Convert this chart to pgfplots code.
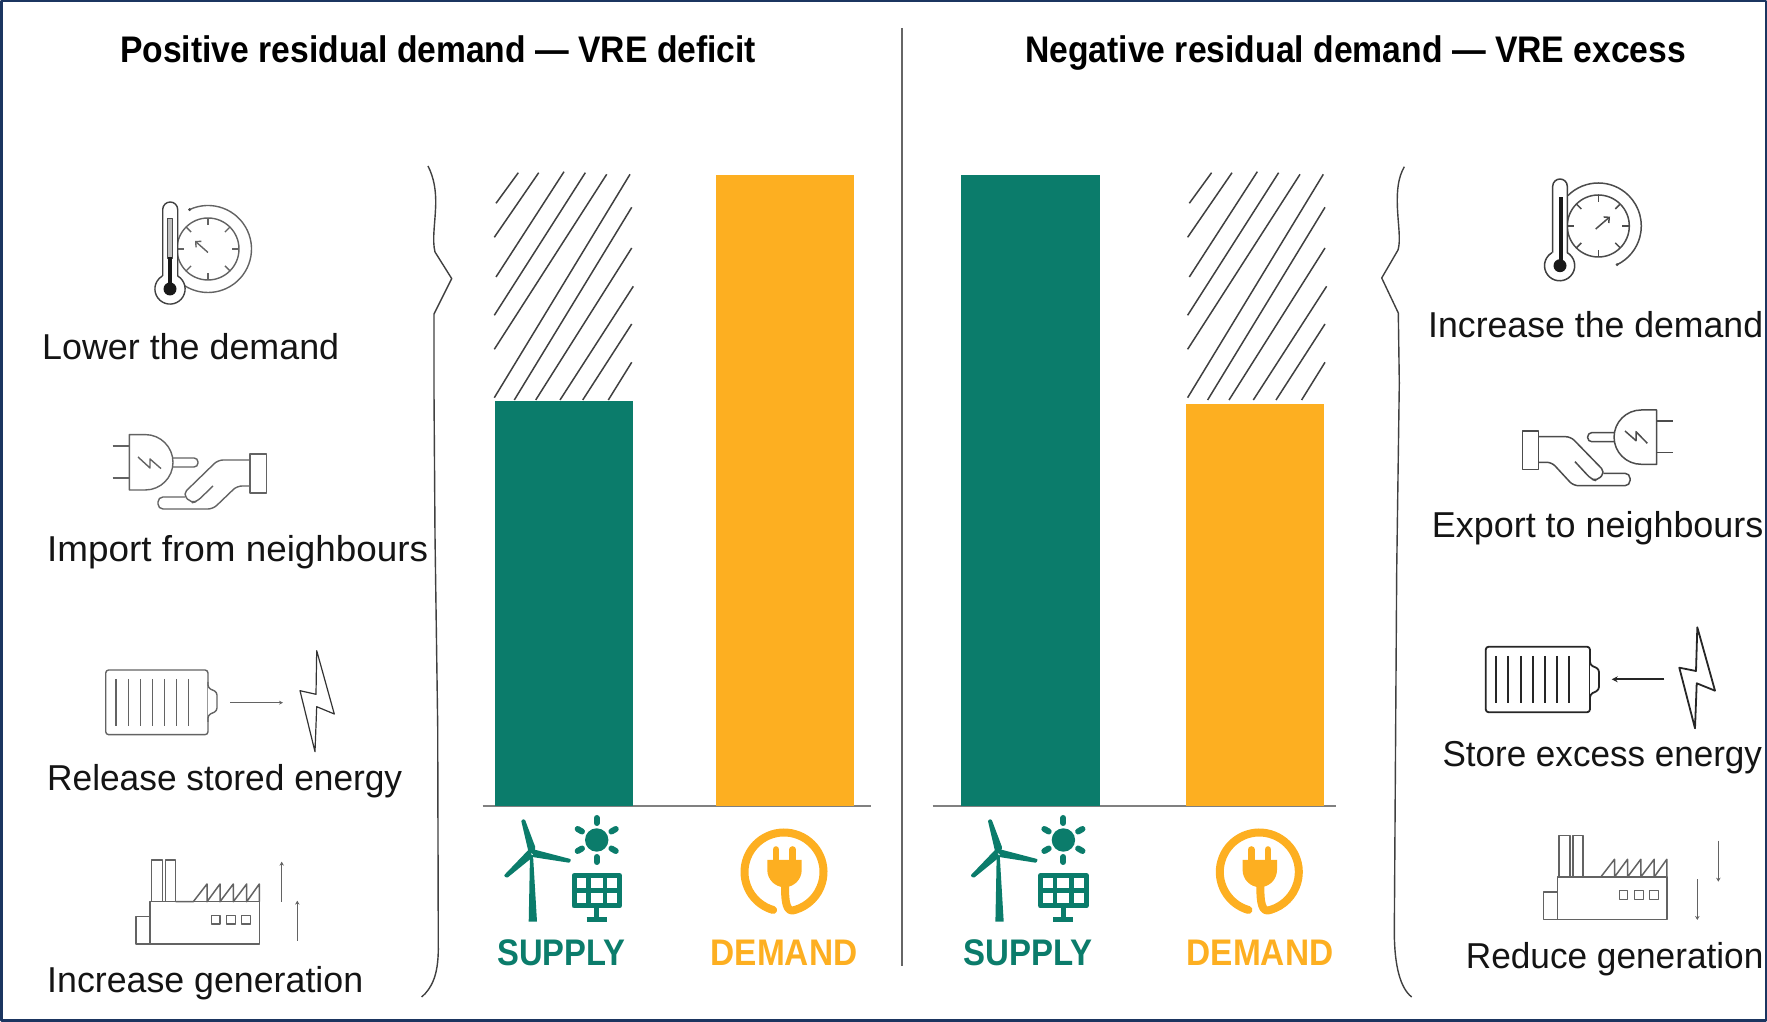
\documentclass[border=0pt]{standalone}
\usepackage{graphicx}
\usepackage{fontspec}
\setmainfont{Liberation Sans}
\usepackage{pgfplots}
\pgfplotsset{compat=1.18}
\usetikzlibrary{arrows.meta}

\definecolor{teal}{HTML}{0B7C6B}
\definecolor{orng}{HTML}{FDAF21}
\definecolor{frame}{HTML}{1B3560}
\definecolor{ink}{HTML}{484848}

% text placed by left end, baseline and width in reference pixels
\newcommand{\lab}[4]{\node[anchor=base west,inner sep=0pt,text=black!92] at (#1,#2+1)
  {\resizebox{#3pt}{\height}{\fontsize{36}{40}\selectfont #4}};}
\newcommand{\ttl}[4]{\node[anchor=base west,inner sep=0pt,text=black] at (#1,#2+1)
  {\resizebox{#3pt}{\height}{\fontsize{37}{40}\selectfont\bfseries #4}};}
\newcommand{\cat}[3]{\resizebox{#1pt}{\height}{\fontsize{37}{40}\selectfont\bfseries\textcolor{#2}{#3}}}

\pgfplotstableread{
x y
496 203.3
518.3 172.7
nan nan
494.3 237.3
538.7 172.7
nan nan
496 277
564 171.7
nan nan
494.3 315.3
585.3 172.7
nan nan
494.3 349.3
606.7 174.3
nan nan
494.3 397.7
630 174.3
nan nan
514.3 400
631.7 207.3
nan nan
535.7 400
631.7 248
nan nan
560 400
633.3 286.3
nan nan
582.7 400
631.7 324
nan nan
608.3 400
631.7 362.3
}\hatchlines

\newcommand{\supplyicon}[1]{%
\begin{scope}[shift={(#1,0)},fill=teal,draw=teal]
  \fill (530,855)--(533,855)--(537,921.7)--(528.7,921.7)--cycle;
  \filldraw[line width=2.4pt,line join=round] (522.5,821)--(524,820.5)--(534,847)--(533.5,853)--(529.5,851)--cycle;
  \filldraw[line width=2.4pt,line join=round] (535,851)--(569.5,860)--(569,861.5)--(540,857)--(534,856)--cycle;
  \filldraw[line width=2.4pt,line join=round] (529,851)--(505.5,875.5)--(507,876.5)--(531,857)--cycle;
  \fill (596.7,840) circle[radius=11.7];
  \foreach \a in {30,90,...,330}
    \draw[line width=6pt,line cap=round] (596.7,840)++(\a:17)--++(\a:5);
  \draw[line width=5pt] (574,875.5) rectangle (619.5,906);
  \draw[line width=4.5pt] (588.3,875.5)--(588.3,906) (605,875.5)--(605,906) (574,890.7)--(619.5,890.7);
  \draw[line width=5pt] (596.7,906)--(596.7,920) (586.7,919.7)--(606.7,919.7);
\end{scope}}

\newcommand{\plugicon}[1]{%
\begin{scope}[shift={(#1,0)},fill=orng,draw=orng]
  \draw[line width=8pt,line cap=round] (784,872)++(106:39.5) arc[start angle=106,end angle=433,radius=39.5]
     .. controls (786,914) and (785,901) .. (785,886);
  \fill (767.3,860)--(801.7,860)--(801.7,870) arc[start angle=0,end angle=180,radius=17.2]--cycle;
  \draw[line width=6.6pt,line cap=round] (776,849.5)--(776,861) (792.6,849.5)--(792.6,861);
\end{scope}}

\newcommand{\factory}[2]{%
\begin{scope}[shift={(#1,#2)},draw=ink!85,line width=1.5pt]
  \draw (150,901.7) rectangle (259.3,944);
  \draw (136,916.7) rectangle (150,944);
  \draw (151.7,860) rectangle (162.3,901.7) (165.7,860) rectangle (175.7,901.7);
  \draw (175.7,901.7)--(193.3,901.7)--(207,884)--(207,901.7)--(220,884)--(220,901.7)--(233.3,884)--(233.3,901.7)--(246.7,884)--(246.7,901.7)--(259.3,884)--(259.3,901.7);
  \draw[line width=1.3pt] (211.7,915.3) rectangle (220,924) (226.7,915.3) rectangle (235.7,924) (241.7,915.3) rectangle (250.7,924);
\end{scope}}

\begin{document}
\begin{tikzpicture}
\path[use as bounding box] (0,0) rectangle (1767pt,1022pt);

% full-size layer in reference pixels: hatching, divider
\begin{axis}[
  at={(0pt,0pt)}, anchor=south west,
  scale only axis, width=1767pt, height=1022pt,
  xmin=0, xmax=1767, ymin=0, ymax=1022, y dir=reverse,
  hide axis, clip=false, unbounded coords=jump]
\addplot[black!75,line width=1.5pt] table[x=x,y=y] {\hatchlines};
\addplot[black!75,line width=1.5pt,xshift=693.3pt] table[x=x,y=y] {\hatchlines};
\addplot[black!60,line width=2pt] coordinates {(902,28) (902,965.6)};
\end{axis}

% left panel
\begin{axis}[
  at={(482.7pt,216pt)}, anchor=south west,
  scale only axis, width=388.3pt, height=630.5pt,
  xmin=-0.3666, xmax=1.3896, ymin=0, ymax=100,
  axis x line*=bottom, axis y line=none,
  x axis line style={-,black!50,line width=1.8pt},
  ybar, bar width=138.5pt, bar shift=0pt,
  xtick={-0.011,0.996}, xticklabels={\cat{128}{teal}{SUPPLY},\cat{146.7}{orng}{DEMAND}},
  major tick length=0pt, ytick=\empty,
  xticklabel style={anchor=base,yshift=-159.7pt,inner sep=0pt}]
\addplot[fill=teal,draw=none] coordinates {(0,64.3)};
\addplot[fill=orng,draw=none] coordinates {(1,100)};
\end{axis}

% right panel
\begin{axis}[
  at={(932.7pt,216pt)}, anchor=south west,
  scale only axis, width=403pt, height=630.5pt,
  xmin=-0.4359, xmax=1.3604, ymin=0, ymax=100,
  axis x line*=bottom, axis y line=none,
  x axis line style={-,black!50,line width=1.8pt},
  ybar, bar width=138.5pt, bar shift=0pt,
  xtick={-0.0125,1.023}, xticklabels={\cat{129}{teal}{SUPPLY},\cat{146.7}{orng}{DEMAND}},
  major tick length=0pt, ytick=\empty,
  xticklabel style={anchor=base,yshift=-159.7pt,inner sep=0pt}]
\addplot[fill=teal,draw=none] coordinates {(0,100)};
\addplot[fill=orng,draw=none] coordinates {(1,63.77)};
\end{axis}

% frame, texts and pictograms, y counted downwards as in the reference
\begin{scope}[x=1pt,y=-1pt,yshift=1022pt,line join=round]
\draw[frame,line width=2.5pt] (1.25,1.25) rectangle (1765.75,1020.75);

\ttl{120}{62}{636}{Positive residual demand — VRE deficit}
\ttl{1025}{62}{661}{Negative residual demand — VRE excess}

\lab{42}{359}{297}{Lower the demand}
\lab{47}{560.5}{381}{Import from neighbours}
\lab{47}{790}{355}{Release stored energy}
\lab{47}{991.7}{316}{Increase generation}
\lab{1428}{336.7}{335}{Increase the demand}
\lab{1431.7}{536.7}{331.5}{Export to neighbours}
\lab{1442.3}{766}{319.5}{Store excess energy}
\lab{1465.7}{967.3}{297.5}{Reduce generation}

% braces
\draw[black!75,line width=1.4pt] (428,166) .. controls (434,178) and (436,190) .. (435.7,205)
  .. controls (435,225) and (432,240) .. (435,252) -- (451.7,278.6) -- (434,314)
  -- (434,393) -- (435,535.7) -- (437.7,726.7) -- (438.3,950)
  .. controls (438,975) and (432,988) .. (421.7,997);
\draw[black!75,line width=1.4pt] (1404.3,166.7) .. controls (1398,178) and (1397,190) .. (1397.3,205)
  .. controls (1398,225) and (1401,240) .. (1398,250) -- (1381.7,278) -- (1398.3,313)
  -- (1399.3,383) -- (1396.7,570) -- (1394.3,933)
  .. controls (1394.5,965) and (1400,988) .. (1411.7,997);

% thermometer and dial, left
\begin{scope}[draw=ink!85,line width=1.4pt]
  \draw (208,249) circle[radius=31];
  \foreach \a in {0,45,...,315}
    \draw (208,249)++(\a:31)--++(\a:-7);
  \draw (208,249)++(-115:43.5) arc[start angle=-115,end angle=130,radius=43.5];
  \fill[ink] (208,249)++(-115:43.5) circle[radius=1.6];
  \draw[-{Straight Barb[length=4pt,width=8pt]}] (208,252.5)--(195,241);
  \draw[fill=white,draw=black!75] (162.7,276)--(162.7,209.5) arc[start angle=180,end angle=360,radius=7.5]
    --(177.7,276) arc[start angle=-59.4,end angle=239.4,radius=15.1];
  \fill[black!25] (167.7,218.6) rectangle (172,258);
  \draw[line width=0.8pt,draw=black!70] (167.7,218.6) rectangle (172,258);
  \fill[black!90] (167.7,257) rectangle (172,285);
  \fill[black!90] (170,289) circle[radius=6.5];
\end{scope}

% thermometer and dial, right
\begin{scope}[draw=black!70,line width=1.5pt]
  \draw (1598.3,226) circle[radius=31];
  \foreach \a in {0,45,...,315}
    \draw (1598.3,226)++(\a:31)--++(\a:-7);
  \draw (1598.3,226)++(-135:43) arc[start angle=-135,end angle=64,radius=43];
  \fill[black!70] (1598.3,226)++(64:43) circle[radius=1.6];
  \draw[-{Straight Barb[length=4pt,width=8pt]}] (1595.7,229)--(1610,216.7);
  \draw[fill=white,draw=black!75] (1552.7,252.7)--(1552.7,186.3) arc[start angle=180,end angle=360,radius=7.3]
    --(1567.3,252.7) arc[start angle=-59.4,end angle=239.4,radius=15.1];
  \fill[black!90] (1558.5,196.7) rectangle (1562.5,262);
  \fill[black!90] (1560,265.7) circle[radius=6.5];
\end{scope}

% plug in hand, left
\begin{scope}[draw=ink!85,line width=1.4pt]
  \draw (129.3,434.6)--(145.3,434.6) arc[start angle=-90,end angle=90,radius=27.7]--(129.3,490)--cycle;
  \draw (112.7,446)--(129.3,446) (112.7,478)--(129.3,478);
  \draw[rounded corners=4] (172,458)--(198,458)--(198,467)--(172,467);
  \draw (138,457)--(150,468)--(150,459)--(161,468.6);
  \draw (250,454) rectangle (266.7,493);
  \draw[rounded corners=5] (250,460)--(218,460)--(183,494)--(191,503)--(197,501.5)--(213,486);
  \draw[rounded corners=5] (250,486)--(237,486)--(213,509)--(158,509)--(158,497)--(185,497);
\end{scope}

% plug in hand, right
\begin{scope}[draw=black!70,line width=1.5pt]
  \draw (1656.7,410)--(1641.2,410) arc[start angle=-90,end angle=-270,radius=27.15]--(1656.7,464.3)--cycle;
  \draw (1656.7,421)--(1672.7,421) (1656.7,452.7)--(1672.7,452.7);
  \draw[rounded corners=4] (1614,432.7)--(1587.7,432.7)--(1587.7,441.7)--(1614,441.7);
  \draw (1625,431)--(1636,440.7)--(1636,431.7)--(1647.3,443.3);
  \draw (1522.3,431) rectangle (1538.3,469.3);
  \draw[rounded corners=5] (1538.3,436.7)--(1570.7,436.7)--(1605,472)--(1597,481)--(1591,479)--(1575,461.7);
  \draw[rounded corners=5] (1538.3,462.3)--(1551.7,462.3)--(1573.3,485.7)--(1630,485.7)--(1630,473.3)--(1603.3,473.3);
\end{scope}

% battery, left
\begin{scope}[draw=ink!85,line width=1.4pt]
  \draw[rounded corners=3] (105.7,670) rectangle (208,734.7);
  \draw[rounded corners=3,fill=white,draw=ink!85] (208,682)--(208,688)--(217,692)--(217,711)--(208,715)--(208,722);
  \foreach \x in {116,128.3,140.3,152.7,164.3,176.7,188.7}
    \draw (\x,679)--(\x,726);
  \draw[-{Stealth[length=4pt,width=4pt]}] (230,702.7)--(283,702.7);
  \draw[black!80,line width=1.2pt] (316.7,650.7)--(334.3,714)--(316.7,706.7)--(315,751.7)--(300,690.7)--(316,694.3)--cycle;
\end{scope}

% battery, right
\begin{scope}[draw=black!85,line width=1.8pt]
  \draw[rounded corners=3] (1485.7,646.7) rectangle (1590,712.3);
  \draw[rounded corners=3,fill=white] (1590,657)--(1590,665)--(1599,669)--(1599,690)--(1590,694.3)--(1590,702);
  \foreach \x in {1496,1508.3,1520.7,1532.7,1545,1557,1569}
    \draw (\x,656)--(\x,703.3);
  \draw[-{Stealth[length=6pt,width=6pt]}] (1664.3,679.3)--(1611.7,679.3);
  \draw (1697.3,627.3)--(1715,690.7)--(1696.7,683.3)--(1695,728.3)--(1679.3,667.7)--(1696,671)--cycle;
\end{scope}

% factories and their arrows
\factory{0}{0}
\factory{1407.5}{-24.7}
\draw[ink!85,line width=1.4pt,-{Stealth[length=4pt,width=4.5pt]}] (281.7,901.7)--(281.7,861.7);
\draw[ink!85,line width=1.4pt,-{Stealth[length=4pt,width=4.5pt]}] (297.3,941)--(297.3,900.7);
\draw[ink!85,line width=1.4pt,-{Stealth[length=4pt,width=4.5pt]}] (1718.3,840.7)--(1718.3,881.7);
\draw[ink!85,line width=1.4pt,-{Stealth[length=4pt,width=4.5pt]}] (1697.3,879.3)--(1697.3,920);

% pictograms under the bars
\supplyicon{0}
\supplyicon{466.7}
\plugicon{0}
\plugicon{475.3}
\end{scope}
\end{tikzpicture}
\end{document}
